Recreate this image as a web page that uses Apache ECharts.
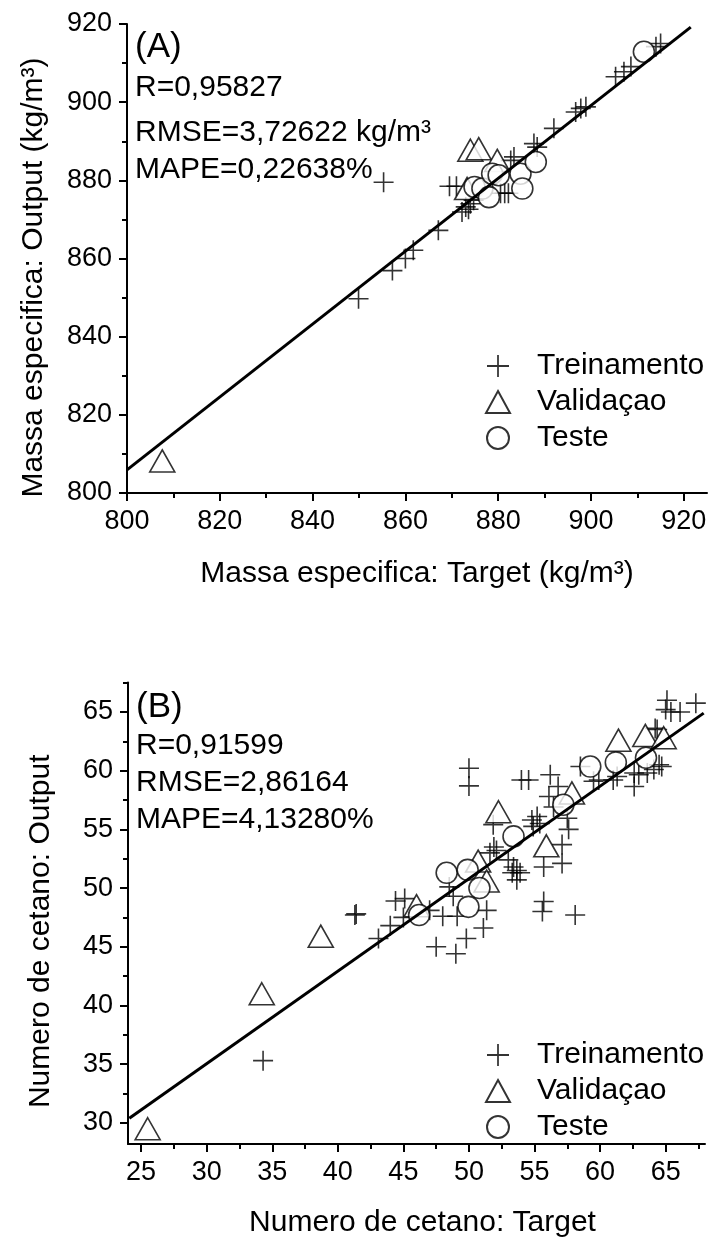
<!DOCTYPE html>
<html><head><meta charset="utf-8">
<script src="https://cdn.jsdelivr.net/npm/echarts@6/dist/echarts.min.js"></script>
<style>html,body{margin:0;padding:0;background:#fff}#c{width:710px;height:1239px}</style>
</head><body><div id="c"></div><script>
const FONT = '"Liberation Sans", Arial, Helvetica, sans-serif';

// ---------- Panel A: Massa especifica ----------
const ticksAx = [800, 820, 840, 860, 880, 900, 920];
const minorAx = [810, 830, 850, 870, 890, 910];
const ticksAy = [800, 820, 840, 860, 880, 900, 920];
const minorAy = [810, 830, 850, 870, 890, 910];
const trainA = [
  [849.9, 849.7], [855.3, 879.5], [857.2, 856.9], [860.0, 860.0], [861.7, 862.1],
  [867.1, 867.2], [869.5, 878.5], [871.0, 878.5], [872.2, 871.9], [873.0, 873.2],
  [874.0, 874.0], [873.6, 872.6], [874.7, 874.9], [880.5, 876.7], [881.4, 876.7],
  [882.2, 876.7], [882.7, 885.1], [883.4, 886.0], [887.7, 889.4], [888.4, 888.5],
  [892.0, 893.3], [896.7, 897.5], [897.8, 898.4], [898.9, 898.8], [905.3, 906.5],
  [907.1, 907.8], [908.6, 909.1], [914.0, 914.2], [915.0, 915.0]
];
const validA = [[807.6, 808.2], [873.3, 877.9], [874.0, 887.7], [875.8, 888.1], [879.8, 885.1]];
const testA = [
  [874.9, 878.3], [876.6, 877.9], [878.0, 875.7], [878.7, 881.7], [880.1, 881.3],
  [884.8, 881.7], [885.2, 877.9], [888.1, 884.7], [911.4, 912.9]
];
const fitA = [[800, 805.9], [921.5, 919.2]];
const statsA = ['(A)', 'R=0,95827', 'RMSE=3,72622 kg/m\u00B3', 'MAPE=0,22638%'];

// ---------- Panel B: Numero de cetano ----------
const ticksBx = [25, 30, 35, 40, 45, 50, 55, 60, 65];
const minorBx = [27.5, 32.5, 37.5, 42.5, 47.5, 52.5, 57.5, 62.5, 67.5];
const ticksBy = [30, 35, 40, 45, 50, 55, 60, 65];
const minorBy = [32.5, 37.5, 42.5, 47.5, 52.5, 57.5, 62.5, 67.5];
const trainB = [
  [34.3, 35.3], [41.3, 47.7], [41.4, 47.8], [43.1, 45.7], [44.0, 46.8],
  [44.4, 48.9], [45.1, 49.1], [45.0, 47.5], [47.0, 48.1], [47.5, 45.0],
  [48.0, 47.6], [48.5, 50.1], [48.8, 49.3], [49.0, 44.4], [49.1, 47.6],
  [49.8, 45.7], [50.0, 60.2], [50.0, 58.7], [51.1, 46.6], [51.35, 48.1],
  [51.6, 53.0], [51.9, 53.5], [52.1, 53.2], [51.85, 55.4], [53.0, 52.4],
  [53.4, 51.8], [53.65, 51.5], [53.9, 51.3], [53.3, 51.3], [53.65, 50.7],
  [54.0, 59.2], [54.55, 59.2], [54.8, 55.8], [55.2, 56.1], [55.4, 55.5],
  [54.9, 55.25], [55.7, 51.8], [55.7, 48.85], [55.6, 48.0], [56.1, 57.8],
  [56.2, 59.65], [56.45, 56.9], [56.8, 58.65], [57.1, 53.7], [57.1, 52.1],
  [57.5, 55.95], [57.6, 55.0], [58.1, 47.7], [58.5, 60.35], [59.5, 59.1],
  [59.9, 59.2], [61.0, 59.2], [61.3, 59.5], [62.6, 59.8], [62.95, 59.65],
  [63.6, 59.8], [62.6, 58.65], [64.1, 60.1], [64.5, 60.5], [64.7, 60.35],
  [64.2, 63.6], [64.35, 63.5], [65.0, 65.2], [65.1, 66.0], [65.4, 65.0],
  [66.1, 65.0], [67.3, 65.75]
];
const validB = [
  [25.5, 29.5], [34.2, 41.0], [38.7, 45.9], [46.0, 48.5], [50.7, 52.3],
  [51.35, 50.6], [52.25, 56.5], [55.9, 53.6], [57.85, 58.1], [61.4, 62.6],
  [63.45, 63.0], [64.85, 62.8]
];
const testB = [
  [46.2, 47.7], [48.3, 51.3], [49.9, 51.55], [50.8, 50.0], [49.96, 48.4],
  [53.4, 54.4], [57.2, 57.1], [59.25, 60.35], [61.2, 60.7], [63.5, 61.1]
];
const fitB = [[24.1, 30.4], [67.9, 64.9]];
const statsB = ['(B)', 'R=0,91599', 'RMSE=2,86164', 'MAPE=4,13280%'];

const seriesNames = ['Treinamento', 'Valida\u00E7ao', 'Teste'];

// ---------- helpers ----------
const CROSS = 'path://M9.2,0h1.6v9.2h9.2v1.6h-9.2v9.2h-1.6v-9.2h-9.2v-1.6h9.2z';

function axes(dim, grid, min, max, major, minor, name, gap, pad) {
  const pos = dim === 'x' ? 'bottom' : 'left';
  const main = {
    type: 'value', gridIndex: grid, min: min, max: max, position: pos,
    name: name, nameLocation: 'middle', nameGap: gap,
    nameTextStyle: { fontFamily: FONT, fontSize: 30, color: '#000', padding: pad },
    axisLine: { show: true, onZero: false, lineStyle: { color: '#000', width: 2 } },
    axisTick: { show: true, inside: false, length: 8, lineStyle: { color: '#000', width: 2 }, customValues: major },
    axisLabel: { show: true, customValues: major, fontFamily: FONT, fontSize: 27, color: '#000', margin: 15 },
    splitLine: { show: false }, minorTick: { show: false }
  };
  const sub = {
    type: 'value', gridIndex: grid, min: min, max: max, position: pos,
    axisLine: { show: false, onZero: false },
    axisTick: { show: true, inside: false, length: 5, lineStyle: { color: '#000', width: 2 }, customValues: minor },
    axisLabel: { show: false }, splitLine: { show: false }
  };
  return [main, sub];
}

function scatterSeries(xi, yi, train, valid, test, fit) {
  return [
    { name: seriesNames[0], type: 'scatter', xAxisIndex: xi, yAxisIndex: yi, data: train,
      symbol: CROSS, symbolSize: 20, symbolKeepAspect: true,
      itemStyle: { color: '#000', borderWidth: 0 }, z: 2 },
    { name: seriesNames[1], type: 'scatter', xAxisIndex: xi, yAxisIndex: yi, data: valid,
      symbol: 'triangle', symbolSize: [25, 22],
      itemStyle: { color: '#fff', borderColor: '#000', borderWidth: 1.6 }, z: 3 },
    { name: seriesNames[2], type: 'scatter', xAxisIndex: xi, yAxisIndex: yi, data: test,
      symbol: 'circle', symbolSize: 21, symbolKeepAspect: true,
      itemStyle: { color: '#fff', borderColor: '#000', borderWidth: 1.6 }, z: 4 },
    { name: 'fit', type: 'line', xAxisIndex: xi, yAxisIndex: yi, data: fit,
      showSymbol: false, symbol: 'none', lineStyle: { color: '#000', width: 3 }, z: 5,
      silent: true }
  ];
}

function statTexts(lines, x, ys, sizes) {
  return lines.map((t, i) => ({
    type: 'text', left: x, top: ys[i] - sizes[i] / 2,
    style: { text: t, font: sizes[i] + 'px ' + FONT, fill: '#000' }
  }));
}

function legend(top, gap) {
  return {
    data: seriesNames, orient: 'vertical', left: 485, top: top, padding: 0,
    itemWidth: 24, itemHeight: 22, itemGap: gap, selectedMode: false,
    textStyle: { fontFamily: FONT, fontSize: 30, color: '#000', lineHeight: 30, padding: [0, 0, 0, 22] }
  };
}

const [xA, xAm] = axes('x', 0, 800, 925, ticksAx, minorAx, 'Massa especifica: Target (kg/m\u00B3)', 66, [0, 0, 0, 0]);
const [yA, yAm] = axes('y', 0, 800, 920, ticksAy, minorAy, 'Massa especifica: Output (kg/m\u00B3)', 78, [0, 38, 0, 0]);
const [xB, xBm] = axes('x', 1, 24, 68, ticksBx, minorBx, 'Numero de cetano: Target', 64, [0, 0, 0, 12]);
const [yB, yBm] = axes('y', 1, 28.2, 67.5, ticksBy, minorBy, 'Numero de cetano: Output', 72, [0, 36, 0, 0]);

const option = {
  animation: false,
  backgroundColor: '#fff',
  grid: [
    { left: 127, top: 24, width: 580, height: 469, containLabel: false },
    { left: 128, top: 682.6, width: 577, height: 461.4, containLabel: false }
  ],
  xAxis: [xA, xAm, xB, xBm],
  yAxis: [yA, yAm, yB, yBm],
  legend: [legend(351, 6), legend(1040, 6)],
  graphic: [
    ...statTexts(statsA, 135, [47, 88, 133, 170], [35, 30, 30, 30]),
    ...statTexts(statsB, 136, [707, 746, 783, 820], [35, 30, 30, 30])
  ],
  series: [
    ...scatterSeries(0, 0, trainA, validA, testA, fitA),
    ...scatterSeries(2, 2, trainB, validB, testB, fitB)
  ]
};

const chart = echarts.init(document.getElementById('c'), null, { renderer: 'canvas' });
chart.setOption(option);
</script></body></html>
